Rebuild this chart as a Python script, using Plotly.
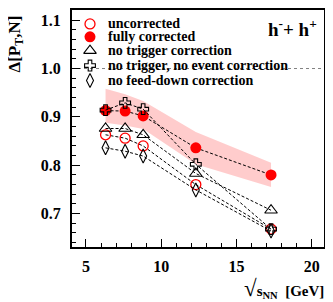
import plotly.graph_objects as go

# ---- data ----
sqrt_s = [6.3, 7.6, 8.8, 12.3, 17.3]
uncorrected = [0.863, 0.856, 0.840, 0.760, 0.668]
fully_corrected = [0.913, 0.912, 0.902, 0.836, 0.780]
band_hi = [0.958, 0.947, 0.933, 0.869, 0.805]
band_lo = [0.888, 0.882, 0.875, 0.802, 0.755]
no_trigger = [0.876, 0.876, 0.863, 0.783, 0.707]
no_trig_no_event = [0.914, 0.929, 0.916, 0.802, 0.668]
no_feeddown = [0.836, 0.829, 0.819, 0.749, 0.664]

labels = ["uncorrected", "fully corrected", "no trigger correction",
          "no trigger, no event correction", "no feed-down correction"]

# page has an 8px body margin; figure sized to fit the 333x302 window
OFF = 8
W, H = 333 - OFF, 302 - OFF
PL, PT, PWID, PHGT = 72, 8, 252, 239          # plot area in window pixels
ML, MT = PL - OFF, PT - OFF
MR = W - ML - PWID
MB = H - MT - PHGT

def px_x(p):
    return (p - PL) / PWID

def px_y(p):
    return 1 - (p - PT) / PHGT

FONT = "Liberation Serif"
RED = "#ff0000"

fig = go.Figure()

# systematic band
fig.add_trace(go.Scatter(
    x=sqrt_s + sqrt_s[::-1], y=band_hi + band_lo[::-1],
    fill="toself", fillcolor="rgba(255,0,0,0.2)", line=dict(width=0),
    mode="lines", showlegend=False, hoverinfo="skip"))

series = [
    (uncorrected, dict(symbol="circle-open", size=10, color=RED, line=dict(width=1.3, color=RED))),
    (fully_corrected, dict(symbol="circle", size=11, color=RED, line=dict(width=0))),
    (no_trigger, dict(symbol="triangle-up-open", size=11, color="black", line=dict(width=1.1, color="black"))),
    (no_trig_no_event, dict(symbol="cross-open", size=9, color="black", line=dict(width=1.1, color="black"))),
    (no_feeddown, dict(symbol="diamond-tall-open", size=10, color="black", line=dict(width=1.1, color="black"))),
]

for vals, mk in series:
    fig.add_trace(go.Scatter(
        x=sqrt_s, y=vals, mode="lines+markers",
        line=dict(color="black", width=1, dash="3px,2px"),
        marker=mk, showlegend=False))

# legend (manual, on an overlay axis in [0,1])
leg_rows = [22, 35, 49, 64, 79]
for (vals, mk), row in zip(series, leg_rows):
    fig.add_trace(go.Scatter(
        x=[px_x(90)], y=[px_y(row)], mode="markers", marker=mk,
        xaxis="x2", yaxis="y2", showlegend=False, hoverinfo="skip"))

annotations = []
for lab, row in zip(labels, leg_rows):
    annotations.append(dict(
        text=lab, xref="paper", yref="paper", x=px_x(106), y=px_y(row),
        xanchor="left", yanchor="middle", showarrow=False,
        font=dict(family=FONT, size=14, color="black", weight="bold")))

annotations.append(dict(
    text="h<sup>-</sup>+ h<sup>+</sup>", xref="paper", yref="paper",
    x=px_x(319), y=px_y(26), xanchor="right", yanchor="middle", showarrow=False,
    font=dict(family=FONT, size=19, color="black", weight="bold")))

annotations.append(dict(
    text="Δ[P<sub>T</sub>,N]", xref="paper", yref="paper", textangle=-90,
    x=px_x(16), y=px_y(12), xanchor="center", yanchor="top", showarrow=False,
    font=dict(family=FONT, size=17, color="black", weight="bold")))

annotations.append(dict(
    text="<span style='font-size:23px'>√</span>s<sub>NN</sub>  [GeV]", xref="paper", yref="paper",
    x=px_x(326), y=px_y(289), xanchor="right", yanchor="middle", showarrow=False,
    font=dict(family=FONT, size=15, color="black", weight="bold")))

fig.add_shape(type="line", xref="paper", yref="y", x0=0, x1=1, y0=1.0, y1=1.0,
              line=dict(color="#808080", width=1, dash="3px,3px"), layer="below")

axis_common = dict(
    showline=True, linewidth=2, linecolor="black", mirror=True,
    ticks="inside", ticklen=8, tickwidth=1, tickcolor="black",
    showgrid=False, zeroline=False,
    tickfont=dict(family=FONT, size=16, color="black", weight="bold"),
)

fig.update_layout(
    width=W, height=H,
    margin=dict(l=ML, r=MR, t=MT, b=MB, pad=0),
    paper_bgcolor="white", plot_bgcolor="white",
    xaxis=dict(range=[4.07, 20.82], tickvals=[5, 10, 15, 20],
               minor=dict(dtick=1, ticks="inside", ticklen=4, tickcolor="black", tickwidth=1),
               ticklabelstandoff=4, **axis_common),
    yaxis=dict(range=[0.631, 1.121], tickvals=[0.7, 0.8, 0.9, 1.0, 1.1], tickformat=".1f",
               minor=dict(dtick=0.02, ticks="inside", ticklen=4, tickcolor="black", tickwidth=1),
               ticklabelstandoff=6, **axis_common),
    xaxis2=dict(range=[0, 1], overlaying="x", visible=False, fixedrange=True),
    yaxis2=dict(range=[0, 1], overlaying="y", visible=False, fixedrange=True),
    annotations=annotations,
    showlegend=False,
)

fig.write_html("out.html")
